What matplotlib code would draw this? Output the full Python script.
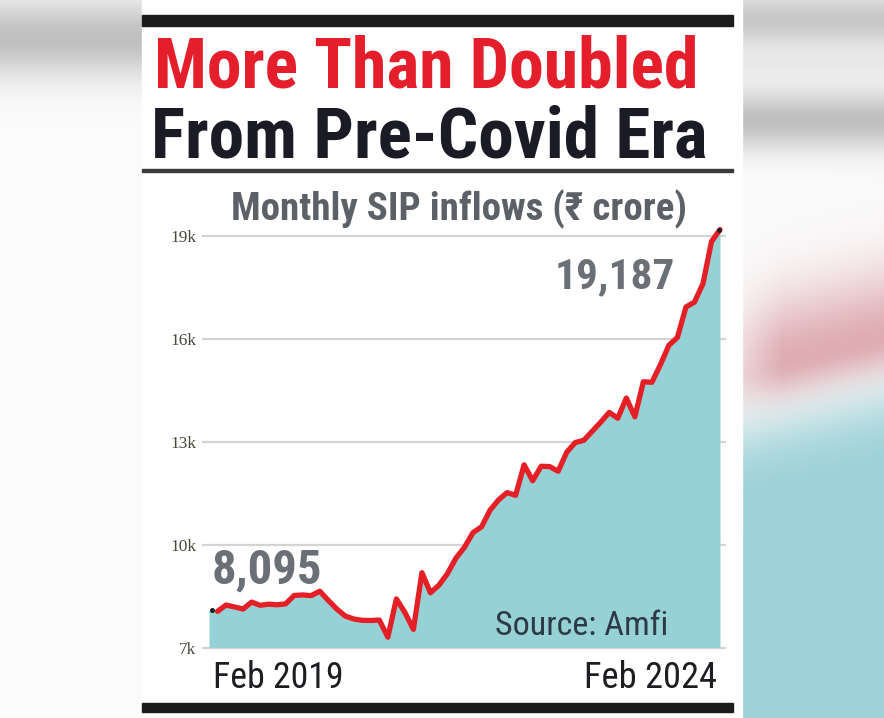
import numpy as np
import matplotlib
matplotlib.use('Agg')
import matplotlib.pyplot as plt
from matplotlib import font_manager
from matplotlib.patches import Rectangle

# ---------------- data ----------------
title_line1 = "More Than Doubled"
title_line2 = "From Pre-Covid Era"
subtitle = "Monthly SIP inflows (\u20b9 crore)"
start_label = "Feb 2019"
end_label = "Feb 2024"
source_label = "Source: Amfi"
ytick_values = [7000, 10000, 13000, 16000, 19000]
ytick_labels = ["7k", "10k", "13k", "16k", "19k"]
# monthly SIP inflows, Feb 2019 .. Feb 2024 (Rs crore)
sip_inflows = [8095, 8055, 8238, 8183, 8122, 8324, 8231, 8263, 8246, 8273, 8518,
               8532, 8513, 8641, 8376, 8123, 7917, 7831, 7792, 7788, 7800, 7302, 8418,
               8023, 7528, 9182, 8596, 8819, 9155, 9609, 9923, 10351, 10519, 11005, 11305,
               11517, 11438, 12328, 11863, 12286, 12276, 12140, 12693, 12976, 13041, 13306, 13573,
               13856, 13686, 14276, 13728, 14749, 14734, 15245, 15814, 16042, 16928, 17073, 17610,
               18838, 19187]
first_value_label = "8,095"
last_value_label = "19,187"

# ---------------- fonts ----------------
avail = {f.name for f in font_manager.fontManager.ttflist}


def pick(*names):
    for n in names:
        if n in avail:
            return n
    return 'DejaVu Sans'


COND = pick('Roboto Condensed', 'Archivo Narrow', 'Barlow Condensed', 'Liberation Sans')
SERIF = pick('Liberation Serif', 'DejaVu Serif')

W, H = 884, 718
fig = plt.figure(figsize=(W / 100, H / 100), dpi=100)

# ---------------- blurred page background ----------------
bg = fig.add_axes([0, 0, 1, 1])
bg.axis('off')
yy, xx = np.mgrid[0:H, 0:W].astype(float)
white = np.array([0.985, 0.985, 0.985])
img = np.ones((H, W, 3)) * white
gl = 0.23 * np.exp(-((yy - 38) / 38) ** 2)
left = xx < 142
for c in range(3):
    img[..., c] = np.where(left, white[c] - gl, img[..., c])
g_r = (0.20 * np.exp(-((yy - 20) / 28) ** 2) + 0.05 * np.exp(-((yy - 65) / 15) ** 2)
       + 0.23 * np.exp(-((yy - 120) / 30) ** 2))
yc = 372 - (xx - 742) * (34 / 142)
teal = np.array([0.61, 0.82, 0.845])
pink = np.array([0.84, 0.58, 0.61])
t = 1 / (1 + np.exp(-(yy - (yc + 62)) / 18))
p = np.where(yy < yc, np.exp(-((yy - yc) / 70) ** 2), np.exp(-((yy - yc) / 34) ** 2))
p = p * np.clip((xx - 742) / 80 + 0.5, 0, 1)
right = xx > 742
for c in range(3):
    base = white[c] - g_r
    col = base * (1 - t) + teal[c] * t
    col = col * (1 - 0.75 * p) + pink[c] * 0.75 * p
    img[..., c] = np.where(right, col, img[..., c])
bg.imshow(np.clip(img, 0, 1), extent=(0, W, H, 0), aspect='auto', interpolation='bilinear')
bg.set_xlim(0, W)
bg.set_ylim(H, 0)

bg.add_patch(Rectangle((142, 0), 600, H, color='white', zorder=1))
bg.add_patch(Rectangle((142, 15), 591, 11, color='#1c1c1c', zorder=2))
bg.add_patch(Rectangle((142, 169), 591, 2.5, color='#3a3a3a', zorder=2))
bg.add_patch(Rectangle((142, 703), 591, 9, color='#1c1c1c', zorder=2))

renderer = fig.canvas.get_renderer()

# ---------------- chart ----------------
x0, x1 = 209, 720
y7, y19 = 647.5, 236
ax = fig.add_axes([x0 / W, (H - y7) / H, (x1 - x0) / W, (y7 - y19) / H])
ax.patch.set_alpha(0)
for s in ax.spines.values():
    s.set_visible(False)
ax.set_xlim(0, len(sip_inflows) - 1)
ax.set_ylim(ytick_values[0], ytick_values[-1])
ax.set_xticks([])
ax.set_yticks(ytick_values)
ax.set_yticklabels(ytick_labels, family=SERIF, fontsize=12.5, color='#4a4a3e')
ax.tick_params(axis='y', length=0, pad=9)

months = np.arange(len(sip_inflows))
for v in ytick_values:
    ax.axhline(v, xmin=-0.012, xmax=1.01, color='#d4d4d4', lw=1.6, clip_on=False, zorder=0)
ax.fill_between(months, ytick_values[0], sip_inflows, color='#95d1d5', lw=0, zorder=1, clip_on=False)
ax.plot(months[1:], sip_inflows[1:], color='#e41f26', lw=3.8, solid_joinstyle='round',
        solid_capstyle='round', zorder=3, clip_on=False)
ax.plot([months[0] + 0.3, months[-1] - 0.1], [sip_inflows[0], sip_inflows[-1]], 'o', ms=2.6,
        color='#222222', zorder=4, clip_on=False)


def fit_text(x, y, s, target_w, ha='left', host=None, **kw):
    host = host or bg
    txt = host.text(x, y, s, ha=ha, va='baseline', fontsize=20, zorder=6,
                    transform=bg.transData, clip_on=False, **kw)
    w = txt.get_window_extent(renderer).width
    txt.set_fontsize(20 * target_w / w)
    return txt


fit_text(154, 87, title_line1, 544, family=[COND, 'DejaVu Sans'], weight='bold', color='#e41e2b')
fit_text(151, 158, title_line2, 554, family=[COND, 'DejaVu Sans'], weight='bold', color='#1b1b26')
fit_text(231, 220, subtitle, 455, family=[COND, 'DejaVu Sans'], weight='bold', color='#5c6168')
fit_text(212, 583, first_value_label, 111, host=ax, family=[COND], weight='bold', color='#6b7077')
fit_text(555, 288, last_value_label, 120, host=ax, family=[COND], weight='bold', color='#6b7077')
fit_text(495, 635, source_label, 173, host=ax, family=[COND], color='#2e3a45')
fit_text(213, 688, start_label, 130, family=[COND], color='#1e1e22')
fit_text(717, 688, end_label, 133, ha='right', family=[COND], color='#1e1e22')

fig.savefig('out.png', dpi=100)
